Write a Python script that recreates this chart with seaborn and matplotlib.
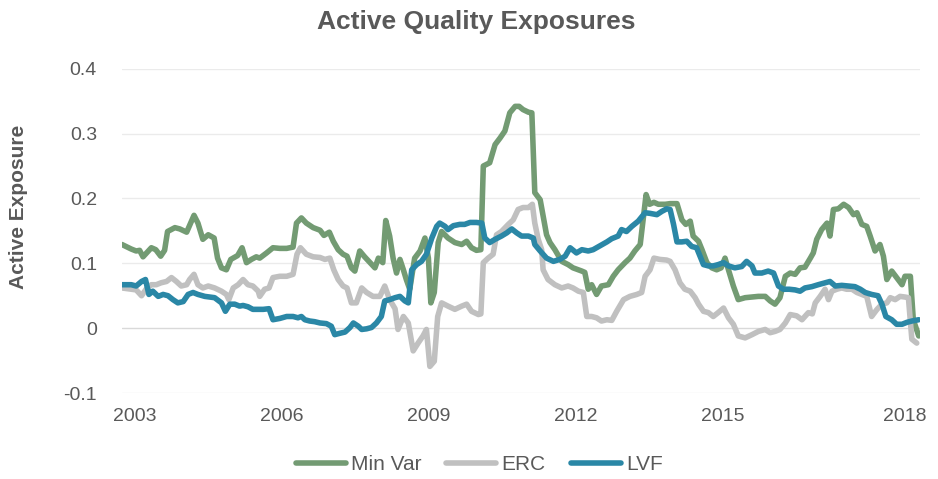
import matplotlib
matplotlib.use("Agg")
import matplotlib.pyplot as plt
import seaborn as sns
import pandas as pd
from matplotlib.lines import Line2D

# ---------------- data ----------------
minvar_x = [2002.74, 2002.93, 2003.03, 2003.10, 2003.17, 2003.34, 2003.43, 2003.53, 2003.61, 2003.67,
            2003.82, 2003.92, 2004.06, 2004.21, 2004.29, 2004.39, 2004.50, 2004.62, 2004.69, 2004.77,
            2004.87, 2004.96, 2005.10, 2005.19, 2005.28, 2005.38, 2005.48, 2005.55, 2005.69, 2005.82,
            2005.96, 2006.10, 2006.23, 2006.30, 2006.40, 2006.50, 2006.64, 2006.78, 2006.86, 2006.97,
            2007.05, 2007.15, 2007.25, 2007.33, 2007.42, 2007.49, 2007.59, 2007.69, 2007.80, 2007.90,
            2007.97, 2008.06, 2008.12, 2008.20, 2008.27, 2008.34, 2008.41, 2008.48, 2008.54, 2008.61,
            2008.71, 2008.82, 2008.92, 2008.99, 2009.04, 2009.11, 2009.19, 2009.26, 2009.39, 2009.53,
            2009.67, 2009.77, 2009.87, 2009.97, 2010.06, 2010.11, 2010.24, 2010.35, 2010.45, 2010.55,
            2010.65, 2010.76, 2010.84, 2010.92, 2011.03, 2011.10, 2011.16, 2011.27, 2011.40, 2011.47,
            2011.57, 2011.71, 2011.84, 2011.94, 2012.12, 2012.18, 2012.25, 2012.32, 2012.42, 2012.52,
            2012.66, 2012.76, 2012.86, 2013.00, 2013.10, 2013.20, 2013.31, 2013.37, 2013.43, 2013.50,
            2013.59, 2013.68, 2013.82, 2013.92, 2014.06, 2014.16, 2014.24, 2014.33, 2014.39, 2014.50,
            2014.57, 2014.67, 2014.77, 2014.87, 2014.96, 2015.04, 2015.11, 2015.21, 2015.31, 2015.45,
            2015.59, 2015.72, 2015.86, 2015.96, 2016.06, 2016.16, 2016.27, 2016.37, 2016.47, 2016.57,
            2016.67, 2016.78, 2016.84, 2016.91, 2017.01, 2017.12, 2017.18, 2017.25, 2017.35, 2017.46,
            2017.56, 2017.66, 2017.73, 2017.83, 2017.93, 2018.00, 2018.10, 2018.20, 2018.27, 2018.34,
            2018.44, 2018.54, 2018.65, 2018.71, 2018.82, 2018.88, 2018.99]
minvar_y = [0.129, 0.122, 0.119, 0.120, 0.110, 0.124, 0.121, 0.111, 0.120, 0.149,
            0.155, 0.153, 0.148, 0.174, 0.162, 0.137, 0.144, 0.139, 0.108, 0.093,
            0.090, 0.106, 0.112, 0.124, 0.101, 0.106, 0.110, 0.108, 0.116, 0.124,
            0.123, 0.123, 0.125, 0.162, 0.170, 0.162, 0.155, 0.151, 0.143, 0.148,
            0.134, 0.121, 0.114, 0.111, 0.093, 0.088, 0.119, 0.110, 0.101, 0.093,
            0.108, 0.101, 0.166, 0.142, 0.108, 0.085, 0.106, 0.090, 0.075, 0.060,
            0.108, 0.119, 0.139, 0.108, 0.039, 0.055, 0.132, 0.149, 0.139, 0.132,
            0.129, 0.134, 0.124, 0.120, 0.121, 0.250, 0.255, 0.283, 0.293, 0.304,
            0.332, 0.342, 0.342, 0.337, 0.333, 0.332, 0.209, 0.198, 0.144, 0.132,
            0.121, 0.103, 0.098, 0.093, 0.088, 0.086, 0.060, 0.067, 0.052, 0.065,
            0.067, 0.080, 0.090, 0.101, 0.108, 0.119, 0.129, 0.167, 0.206, 0.191,
            0.194, 0.191, 0.191, 0.192, 0.192, 0.167, 0.160, 0.165, 0.142, 0.134,
            0.121, 0.101, 0.093, 0.090, 0.093, 0.108, 0.090, 0.065, 0.044, 0.047,
            0.048, 0.049, 0.049, 0.042, 0.037, 0.047, 0.080, 0.085, 0.083, 0.093,
            0.094, 0.108, 0.116, 0.137, 0.152, 0.162, 0.142, 0.183, 0.184, 0.191,
            0.186, 0.175, 0.178, 0.160, 0.157, 0.142, 0.119, 0.129, 0.111, 0.075,
            0.088, 0.078, 0.067, 0.080, 0.080, 0.013, -0.012]

erc_x = [2002.74, 2002.93, 2003.03, 2003.14, 2003.24, 2003.34, 2003.44, 2003.54, 2003.65, 2003.75,
         2003.85, 2003.95, 2004.06, 2004.12, 2004.21, 2004.29, 2004.39, 2004.50, 2004.63, 2004.77,
         2004.87, 2004.92, 2005.01, 2005.11, 2005.21, 2005.31, 2005.41, 2005.52, 2005.55, 2005.65,
         2005.74, 2005.82, 2005.96, 2006.10, 2006.23, 2006.31, 2006.38, 2006.50, 2006.64, 2006.78,
         2006.88, 2006.98, 2007.06, 2007.15, 2007.25, 2007.33, 2007.42, 2007.52, 2007.63, 2007.73,
         2007.86, 2008.00, 2008.10, 2008.20, 2008.31, 2008.37, 2008.48, 2008.58, 2008.68, 2008.78,
         2008.88, 2008.95, 2009.02, 2009.11, 2009.18, 2009.26, 2009.39, 2009.53, 2009.67, 2009.77,
         2009.87, 2010.01, 2010.06, 2010.11, 2010.21, 2010.31, 2010.38, 2010.48, 2010.62, 2010.72,
         2010.82, 2010.92, 2011.03, 2011.11, 2011.16, 2011.23, 2011.30, 2011.33, 2011.43, 2011.57,
         2011.71, 2011.84, 2011.94, 2012.05, 2012.15, 2012.22, 2012.32, 2012.42, 2012.52, 2012.63,
         2012.73, 2012.83, 2012.97, 2013.10, 2013.24, 2013.34, 2013.41, 2013.51, 2013.59, 2013.71,
         2013.85, 2013.92, 2014.02, 2014.12, 2014.22, 2014.33, 2014.43, 2014.50, 2014.60, 2014.70,
         2014.80, 2014.90, 2015.01, 2015.11, 2015.21, 2015.31, 2015.45, 2015.59, 2015.72, 2015.86,
         2015.96, 2016.06, 2016.16, 2016.27, 2016.37, 2016.50, 2016.61, 2016.74, 2016.82, 2016.88,
         2016.98, 2017.08, 2017.15, 2017.22, 2017.32, 2017.42, 2017.52, 2017.63, 2017.73, 2017.83,
         2017.93, 2018.03, 2018.14, 2018.24, 2018.34, 2018.41, 2018.51, 2018.61, 2018.71, 2018.78,
         2018.85, 2018.95]
erc_y = [0.062, 0.060, 0.059, 0.050, 0.061, 0.067, 0.067, 0.070, 0.072, 0.078,
         0.072, 0.065, 0.067, 0.075, 0.083, 0.067, 0.062, 0.065, 0.062, 0.057,
         0.052, 0.044, 0.062, 0.067, 0.075, 0.067, 0.065, 0.057, 0.049, 0.060,
         0.062, 0.078, 0.080, 0.080, 0.083, 0.114, 0.124, 0.114, 0.110, 0.109,
         0.106, 0.108, 0.090, 0.075, 0.065, 0.062, 0.039, 0.039, 0.062, 0.055,
         0.049, 0.049, 0.065, 0.044, 0.030, -0.002, 0.018, 0.008, -0.035, -0.023,
         -0.012, -0.002, -0.059, -0.051, 0.018, 0.039, 0.034, 0.029, 0.034, 0.037,
         0.026, 0.021, 0.022, 0.101, 0.108, 0.114, 0.144, 0.149, 0.160, 0.167,
         0.183, 0.186, 0.186, 0.191, 0.162, 0.137, 0.121, 0.090, 0.075, 0.067,
         0.062, 0.065, 0.062, 0.057, 0.055, 0.018, 0.018, 0.016, 0.011, 0.013,
         0.012, 0.026, 0.044, 0.049, 0.052, 0.055, 0.080, 0.090, 0.108, 0.106,
         0.105, 0.103, 0.090, 0.070, 0.060, 0.057, 0.047, 0.037, 0.026, 0.024,
         0.018, 0.024, 0.031, 0.016, 0.006, -0.012, -0.015, -0.010, -0.005, -0.002,
         -0.007, -0.005, -0.002, 0.008, 0.021, 0.019, 0.013, 0.024, 0.022, 0.039,
         0.049, 0.060, 0.044, 0.057, 0.060, 0.062, 0.060, 0.060, 0.055, 0.052,
         0.049, 0.018, 0.029, 0.037, 0.039, 0.047, 0.044, 0.049, 0.048, 0.047,
         -0.017, -0.023]

lvf_x = [2002.74, 2002.93, 2003.03, 2003.14, 2003.22, 2003.29, 2003.37, 2003.48, 2003.58, 2003.68,
         2003.78, 2003.88, 2003.99, 2004.09, 2004.19, 2004.29, 2004.43, 2004.53, 2004.63, 2004.77,
         2004.85, 2004.94, 2005.04, 2005.14, 2005.21, 2005.31, 2005.41, 2005.62, 2005.74, 2005.82,
         2005.96, 2006.10, 2006.23, 2006.33, 2006.40, 2006.47, 2006.57, 2006.67, 2006.78, 2006.91,
         2007.01, 2007.08, 2007.18, 2007.29, 2007.39, 2007.46, 2007.56, 2007.63, 2007.73, 2007.83,
         2007.93, 2008.03, 2008.10, 2008.20, 2008.31, 2008.41, 2008.51, 2008.58, 2008.65, 2008.75,
         2008.85, 2008.95, 2009.06, 2009.16, 2009.22, 2009.33, 2009.39, 2009.50, 2009.63, 2009.73,
         2009.84, 2009.97, 2010.08, 2010.14, 2010.24, 2010.35, 2010.48, 2010.59, 2010.69, 2010.79,
         2010.89, 2011.03, 2011.13, 2011.16, 2011.27, 2011.40, 2011.54, 2011.67, 2011.78, 2011.88,
         2012.01, 2012.12, 2012.25, 2012.35, 2012.49, 2012.63, 2012.73, 2012.86, 2012.93, 2013.03,
         2013.14, 2013.27, 2013.41, 2013.51, 2013.65, 2013.75, 2013.85, 2013.92, 2013.99, 2014.06,
         2014.16, 2014.26, 2014.36, 2014.46, 2014.53, 2014.60, 2014.70, 2014.80, 2014.90, 2015.01,
         2015.11, 2015.24, 2015.38, 2015.48, 2015.59, 2015.65, 2015.79, 2015.92, 2016.03, 2016.13,
         2016.23, 2016.35, 2016.47, 2016.57, 2016.67, 2016.81, 2016.94, 2017.08, 2017.18, 2017.29,
         2017.42, 2017.56, 2017.69, 2017.80, 2017.90, 2018.03, 2018.16, 2018.24, 2018.32, 2018.44,
         2018.54, 2018.65, 2018.75, 2018.85, 2018.99]
lvf_y = [0.067, 0.067, 0.065, 0.072, 0.075, 0.052, 0.057, 0.049, 0.052, 0.050,
         0.044, 0.039, 0.041, 0.052, 0.055, 0.052, 0.049, 0.048, 0.047, 0.039,
         0.026, 0.037, 0.037, 0.034, 0.035, 0.033, 0.029, 0.029, 0.030, 0.013,
         0.015, 0.018, 0.018, 0.016, 0.018, 0.013, 0.011, 0.010, 0.008, 0.007,
         0.003, -0.010, -0.008, -0.006, 0.001, 0.008, 0.003, -0.002, -0.001, 0.001,
         0.008, 0.018, 0.042, 0.044, 0.047, 0.049, 0.042, 0.039, 0.090, 0.098,
         0.103, 0.114, 0.139, 0.157, 0.162, 0.157, 0.152, 0.158, 0.160, 0.160,
         0.163, 0.163, 0.162, 0.139, 0.132, 0.137, 0.142, 0.147, 0.153, 0.147,
         0.142, 0.142, 0.139, 0.129, 0.119, 0.108, 0.103, 0.106, 0.111, 0.124,
         0.116, 0.121, 0.119, 0.121, 0.127, 0.133, 0.138, 0.142, 0.152, 0.149,
         0.157, 0.165, 0.178, 0.177, 0.175, 0.180, 0.184, 0.183, 0.160, 0.133,
         0.133, 0.134, 0.126, 0.124, 0.111, 0.098, 0.096, 0.096, 0.098, 0.101,
         0.096, 0.093, 0.095, 0.103, 0.096, 0.085, 0.085, 0.088, 0.085, 0.065,
         0.060, 0.060, 0.059, 0.057, 0.062, 0.064, 0.067, 0.070, 0.072, 0.065,
         0.066, 0.065, 0.064, 0.060, 0.055, 0.052, 0.050, 0.037, 0.018, 0.013,
         0.006, 0.006, 0.009, 0.011, 0.013]

series_names = ["Min Var", "ERC", "LVF"]
tick_labels = ["2003", "2006", "2009", "2012", "2015", "2018"]
tick_years = [2003, 2006, 2009, 2012, 2015, 2018.7]
y_ticks = [-0.1, 0, 0.1, 0.2, 0.3, 0.4]
y_tick_labels = ["-0.1", "0", "0.1", "0.2", "0.3", "0.4"]
title = "Active Quality Exposures"
y_label = "Active Exposure"

# ---------------- build long table ----------------
frames = []
for name, xs, ys in zip(series_names, [minvar_x, erc_x, lvf_x], [minvar_y, erc_y, lvf_y]):
    frames.append(pd.DataFrame({"year": xs, "value": ys, "series": name}))
df = pd.concat(frames, ignore_index=True)

# ---------------- styling ----------------
sns.set_theme(style="white")
plt.rcParams["font.family"] = ["Liberation Sans", "DejaVu Sans"]
text_color = "#595959"
palette = {"Min Var": "#739B73", "ERC": "#C0C0C0", "LVF": "#2A87A6"}

fig = plt.figure(figsize=(9.38, 4.79), dpi=100)
ax = fig.add_axes([0.130, 0.1795, 0.851, 0.677])

for yt in y_ticks:
    ax.axhline(yt, color="#D9D9D9" if yt == 0 else "#EBEBEB", lw=1.0, zorder=0)

sns.lineplot(data=df, x="year", y="value", hue="series", palette=palette,
             hue_order=series_names, linewidth=4.0, sort=False, estimator=None,
             ax=ax, legend=False)
for ln in ax.get_lines():
    ln.set_solid_capstyle("round")
    ln.set_solid_joinstyle("round")

ax.set_xlim(2002.74, 2019.02)
ax.set_ylim(-0.1, 0.4)
ax.set_yticks(y_ticks)
ax.set_yticklabels(y_tick_labels)
ax.set_xticks(tick_years)
ax.set_xticklabels(tick_labels)
ax.tick_params(axis="both", length=0, labelsize=14, colors=text_color)
ax.tick_params(axis="x", pad=11)
ax.tick_params(axis="y", pad=18)
for s in ax.spines.values():
    s.set_visible(False)
ax.set_xlabel("")
ax.set_ylabel("")
fig.text(18 / 938, 1 - 207 / 479, y_label, rotation=90, ha="center", va="center",
         fontsize=15, fontweight="bold", color=text_color)

fig.text(476 / 938, 1 - 22 / 479, title, ha="center", va="center",
         fontsize=19, fontweight="bold", color=text_color)

handles = [Line2D([0], [0], color=palette[n], lw=4.0, solid_capstyle="round") for n in series_names]
fig.legend(handles, series_names, loc="center", bbox_to_anchor=(479 / 938, 1 - 465 / 479), ncol=3,
           frameon=False, fontsize=15, handlelength=2.4, handletextpad=0.25, columnspacing=1.2,
           labelcolor=text_color)

fig.savefig("out.png", dpi=100)
